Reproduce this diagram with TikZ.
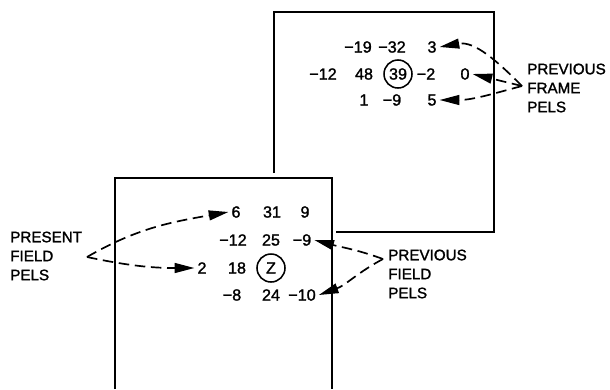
\documentclass[tikz,border=0pt]{standalone}
\usepackage{fontspec}
\setmainfont{Liberation Sans}
\newfontfamily\pelfont[FakeBold=1.5]{Liberation Sans}
\usepackage{tikz}
\usetikzlibrary{arrows.meta}
\tikzset{
  pel/.style={font=\pelfont\fontsize{11.5}{13}\selectfont, inner sep=2pt},
  cur/.style={pel, circle, draw, line width=1.1pt, minimum size=0.7cm, inner sep=0pt},
  tag/.style={font=\pelfont\fontsize{10.8}{13.5}\selectfont, align=left, anchor=west, inner sep=0pt},
  frame/.style={line width=1.5pt},
  arrow/.style={line width=1.2pt, dash pattern=on 7.5pt off 4pt,
    -{Triangle[length=14pt, width=7pt]}}
}
\begin{document}
\begin{tikzpicture}[x=0.025cm, y=-0.025cm]
  \useasboundingbox (0,0) rectangle (610,389);

  % Frames
  \draw[frame] (274,173) -- (274,12) -- (494,12) -- (494,232) -- (336,232);
  \draw[frame] (115,389) -- (115,178) -- (332,178) -- (332,389);

  % Previous frame
  \node (fa) at (358,47) [pel] {−19};
  \node (fb) at (392,47) [pel] {−32};
  \node (f3) at (432,47) [pel] {3};
  \node (fc) at (323,74) [pel] {−12};
  \node (fd) at (364,74) [pel] {48};
  \node (fz) at (398,74) [cur] {39};
  \node (fe) at (426,74) [pel] {−2};
  \node (f0) at (465,74) [pel] {0};
  \node (ff) at (364,100) [pel] {1};
  \node (fg) at (392,100) [pel] {−9};
  \node (f5) at (432,100) [pel] {5};

  % Present field
  \node (p6) at (236,212) [pel] {6};
  \node (pa) at (272,212) [pel] {31};
  \node (pb) at (305,212) [pel] {9};
  \node (pc) at (233,240) [pel] {−12};
  \node (pd) at (271,240) [pel] {25};
  \node (q9) at (302,240) [pel] {−9};
  \node (p2) at (202,268) [pel] {2};
  \node (pe) at (237,268) [pel] {18};
  \node (pz) at (271,268) [cur] {Z};
  \node (pf) at (232,295) [pel] {−8};
  \node (pg) at (271,295) [pel] {24};
  \node (q10) at (302,295) [pel] {−10};

  % Labels
  \node (lframe) at (527,88) [tag] {PREVIOUS\\FRAME\\PELS};
  \node (lpres) at (10,256) [tag] {PRESENT\\FIELD\\PELS};
  \node (lfield) at (388,274) [tag] {PREVIOUS\\FIELD\\PELS};
  \coordinate (vframe) at (522,86);
  \coordinate (vpres) at (87,257);
  \coordinate (vfield) at (383,259);

  % Arrows
  \draw[arrow] (vframe) to[out=135, in=10] (f3.east);
  \draw[arrow] (vframe) -- (f0.east);
  \draw[arrow] (vframe) to[out=195, in=0] (f5.east);
  \draw[arrow] (vpres) to[out=30, in=190] (p6.west);
  \draw[arrow] (vpres) to[out=-12, in=180] (p2.west);
  \draw[arrow] (vfield) to[out=160, in=-15] (q9.east);
  \draw[arrow] (vfield) to[out=208, in=20] (q10.east);
\end{tikzpicture}
\end{document}
